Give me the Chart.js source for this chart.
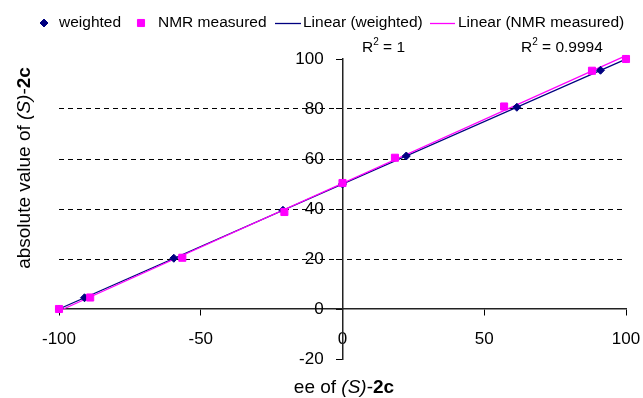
<!DOCTYPE html>
<html><head><meta charset="utf-8">
<script src="https://cdn.jsdelivr.net/npm/chart.js@4/dist/chart.umd.min.js"></script>
<style>html,body{margin:0;padding:0;background:#fff;}</style>
</head><body>
<canvas id="c" width="643" height="398"></canvas>
<script>
// ---- data ----
const eeWeighted  = [-100, -91, -59.5, -21, 0, 22.5, 61.5, 91, 100];
const absWeighted = [0, 4.5, 20.3, 39.5, 50, 61.2, 80.7, 95.5, 100];
const eeNMR  = [-100, -89, -56.5, -20.5, 0, 18.5, 57, 88, 100];
const absNMR = [0, 4.6, 20.5, 38.8, 50.4, 60.5, 81, 95.3, 100];
const xTicks = [-100, -50, 0, 50, 100];
const yTicks = [-20, 0, 20, 40, 60, 80, 100];
const dashedGridValues = [20, 40, 60, 80];
const seriesNames = ['weighted', 'NMR measured', 'Linear (weighted)', 'Linear (NMR measured)'];
const r2Values = ['1', '0.9994'];

const NAVY = '#000080', MAG = '#FF00FF';
const FONT = '"Liberation Sans", Arial, Helvetica, sans-serif';

function linFit(xs, ys) {
  const n = xs.length;
  const mx = xs.reduce((a, b) => a + b, 0) / n, my = ys.reduce((a, b) => a + b, 0) / n;
  let sxy = 0, sxx = 0;
  for (let i = 0; i < n; i++) { sxy += (xs[i] - mx) * (ys[i] - my); sxx += (xs[i] - mx) ** 2; }
  const m = sxy / sxx, b = my - m * mx;
  const x0 = Math.min(...xs), x1 = Math.max(...xs);
  return [{x: x0, y: m * x0 + b}, {x: x1, y: m * x1 + b}];
}
const pts = (xs, ys) => xs.map((x, i) => ({x, y: ys[i]}));

const legendPlugin = {
  id: 'customLegend',
  afterDraw(chart) {
    const ctx = chart.ctx;
    const ds = chart.data.datasets;
    const y = 23;
    const items = [
      {i: 0, mx: 44, tx: 59},
      {i: 1, mx: 141, tx: 158},
      {i: 2, lx1: 275, lx2: 301, tx: 303},
      {i: 3, lx1: 430, lx2: 455, tx: 458}
    ];
    ctx.save();
    items.forEach(it => {
      const d = ds[it.i];
      if (it.mx !== undefined) {
        ctx.fillStyle = d.backgroundColor; ctx.strokeStyle = d.borderColor; ctx.lineWidth = 1;
        Chart.helpers.drawPoint(ctx, {pointStyle: d.pointStyle, radius: d.pointRadius, borderWidth: 1}, it.mx, y);
      } else {
        ctx.strokeStyle = d.borderColor; ctx.lineWidth = 1.3;
        ctx.beginPath(); ctx.moveTo(it.lx1, y + 0.5); ctx.lineTo(it.lx2, y + 0.5); ctx.stroke();
      }
      ctx.fillStyle = '#000'; ctx.font = '15.5px ' + FONT; ctx.textBaseline = 'middle'; ctx.textAlign = 'left';
      ctx.fillText(d.label, it.tx, y);
    });
    ctx.restore();
  }
};

function drawRich(ctx, parts, x, y) {
  let cx = x;
  parts.forEach(p => { ctx.font = p.f; ctx.fillText(p.t, cx, y + (p.dy || 0)); cx += ctx.measureText(p.t).width; });
}
function richWidth(ctx, parts) {
  let w = 0; parts.forEach(p => { ctx.font = p.f; w += ctx.measureText(p.t).width; }); return w;
}

const textPlugin = {
  id: 'extraText',
  afterDraw(chart) {
    const ctx = chart.ctx;
    ctx.save();
    ctx.fillStyle = '#000'; ctx.textBaseline = 'middle'; ctx.textAlign = 'left';
    const r2pos = [{x: 362, y: 48}, {x: 521, y: 48}];
    r2Values.forEach((v, k) => {
      drawRich(ctx, [
        {t: 'R', f: '15.5px ' + FONT},
        {t: '2', f: '10px ' + FONT, dy: -6},
        {t: ' = ' + v, f: '15.5px ' + FONT}
      ], r2pos[k].x, r2pos[k].y);
    });
    const titleParts = pre => [
      {t: pre, f: '19px ' + FONT},
      {t: '(S)', f: 'italic 19px ' + FONT},
      {t: '-', f: '19px ' + FONT},
      {t: '2c', f: 'bold 19px ' + FONT}
    ];
    const xp = titleParts('ee of ');
    const xw = richWidth(ctx, xp);
    drawRich(ctx, xp, 344 - xw / 2, 388);
    const yp = titleParts('absolute value of ');
    const yw = richWidth(ctx, yp);
    ctx.translate(25, 168);
    ctx.rotate(-Math.PI / 2);
    drawRich(ctx, yp, -yw / 2, 0);
    ctx.restore();
  }
};

new Chart(document.getElementById('c'), {
  type: 'scatter',
  data: {
    datasets: [
      {label: seriesNames[0], data: pts(eeWeighted, absWeighted), pointStyle: 'rectRot', pointRadius: 4,
       backgroundColor: NAVY, borderColor: NAVY, borderWidth: 1, showLine: false, order: 1, clip: false},
      {label: seriesNames[1], data: pts(eeNMR, absNMR), pointStyle: 'rect', pointRadius: 5,
       backgroundColor: MAG, borderColor: MAG, borderWidth: 1, showLine: false, order: 0, clip: false},
      {label: seriesNames[2], data: linFit(eeWeighted, absWeighted), showLine: true, pointRadius: 0,
       borderColor: NAVY, backgroundColor: NAVY, borderWidth: 1.3, order: 3, clip: false},
      {label: seriesNames[3], data: linFit(eeNMR, absNMR), showLine: true, pointRadius: 0,
       borderColor: MAG, backgroundColor: MAG, borderWidth: 1.3, order: 2, clip: false}
    ]
  },
  options: {
    responsive: false,
    animation: false,
    layout: {padding: {left: 59, right: 17, top: 59, bottom: 39}},
    plugins: {legend: {display: false}, tooltip: {enabled: false}},
    scales: {
      x: {
        type: 'linear', min: -100, max: 100, position: {y: 0},
        afterBuildTicks: s => { s.ticks = xTicks.map(v => ({value: v})); },
        afterFit: s => { s.paddingLeft = 0; s.paddingRight = 0; },
        ticks: {font: {size: 17, family: FONT}, color: '#000', padding: 14, maxRotation: 0},
        grid: {drawOnChartArea: false, drawTicks: true, tickLength: 6, tickColor: '#000', color: '#000'},
        border: {color: '#222', width: 1.5}
      },
      y: {
        type: 'linear', min: -20, max: 100, position: {x: 0},
        afterBuildTicks: s => { s.ticks = yTicks.map(v => ({value: v})); },
        afterFit: s => { s.paddingTop = 0; s.paddingBottom = 0; },
        ticks: {font: {size: 17, family: FONT}, color: '#000', padding: 10,
                callback: v => v + '    '},
        grid: {
          drawOnChartArea: true, drawTicks: true, tickLength: 6, tickColor: '#000', lineWidth: 1,
          color: c => (c.tick && dashedGridValues.includes(c.tick.value)) ? '#000' : 'rgba(0,0,0,0)'
        },
        border: {color: '#222', width: 1.5, dash: [5, 4]}
      }
    }
  },
  plugins: [legendPlugin, textPlugin]
});
</script>
</body></html>
